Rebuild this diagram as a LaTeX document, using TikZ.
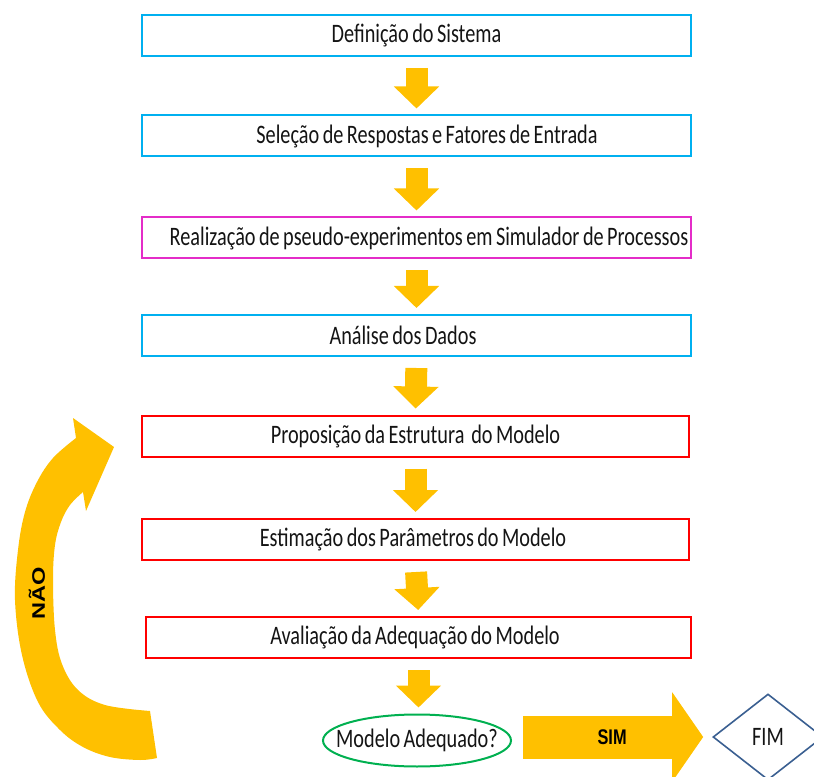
\documentclass[tikz,border=0pt]{standalone}
\usepackage{fontspec}
\setmainfont{Carlito}
% narrow, tall lettering for the boxes; bold sans for the yes/no tags
\newfontfamily\boxfont{Carlito}[FakeStretch=0.76, WordSpace=0.75]
\newfontfamily\tagfont{Liberation Sans}[FakeStretch=0.77]
\newfontfamily\sidefont{Liberation Sans}[FakeStretch=1.3]
\usetikzlibrary{shapes.geometric,arrows.meta,calc}

\definecolor{cyanline}{RGB}{0,176,240}
\definecolor{magline}{RGB}{228,44,200}
\definecolor{redline}{RGB}{255,0,0}
\definecolor{flowyellow}{RGB}{255,192,0}
\definecolor{greenline}{RGB}{0,176,80}
\definecolor{steelline}{RGB}{58,95,145}
\definecolor{inktext}{RGB}{20,20,20}

\begin{document}
\begin{tikzpicture}[x=0.75pt,y=-0.75pt,
  txt/.style={text=inktext, font=\boxfont\fontsize{20pt}{22pt}\selectfont},
  stepbox/.style={txt, draw, line width=1.5pt, rectangle, inner sep=0pt,
    minimum width=411.75pt, minimum height=30.75pt},
  flowdown/.style={draw=flowyellow, line width=16.5pt,
    -{Triangle[width=33pt,length=16.5pt]}, shorten <=8.25pt, shorten >=4.5pt},
  flowright/.style={draw=flowyellow, line width=32.25pt,
    -{Triangle[width=66pt,length=23.25pt]}, shorten <=8.25pt, shorten >=6.75pt},
  tag/.style={text=black, font=\tagfont\bfseries\fontsize{15.9pt}{18pt}\selectfont}
]
\useasboundingbox (0,0) rectangle (814,777);

% process steps
\node[stepbox, draw=cyanline] (b1) at (416.5,35.5) {Definição do Sistema};
\node[stepbox, draw=cyanline] (b2) at (416.5,136) {\hspace*{15.75pt}Seleção de Respostas e Fatores de Entrada};
\node[stepbox, draw=magline]  (b3) at (416.5,238) {\hspace*{18.75pt}Realização de pseudo-experimentos em Simulador de Processos};
\node[stepbox, draw=cyanline] (b4) at (416.5,335.5) {Análise dos Dados\hspace*{20.25pt}};
\node[stepbox, draw=redline, minimum width=410.25pt] (b5) at (415.5,436) {Proposição da Estrutura\ \ do Modelo};
\node[stepbox, draw=redline, minimum width=410.25pt] (b6) at (415.5,539.5) {Estimação dos Parâmetros do Modelo\hspace*{3.75pt}};
\node[stepbox, draw=redline, minimum width=408.75pt] (b7) at (418.5,637.5) {Avaliação da Adequação do Modelo\hspace*{5.25pt}};

% decision and end
\node[txt, draw=greenline, line width=1.5pt, ellipse, inner sep=0pt,
  minimum width=141pt, minimum height=39pt] (ok) at (417,740.5) {\makebox[0pt]{Modelo Adequado?}};
\node[txt, draw=steelline, line width=1.2pt, diamond, inner sep=0pt,
  minimum width=82.5pt, minimum height=64.5pt] (fim) at (768,737) {FIM};

% flow arrows
\draw[flowdown] (b1.south) -- (b2.north);
\draw[flowdown] (b2.south) -- (b3.north);
\draw[flowdown] (b3.south) -- (b4.north);
\draw[flowdown] (b4.south) -- (b5.north);
\draw[flowdown] (b5.south) -- (b6.north);
\draw[flowdown] (b6.south) -- (b7.north);
\draw[flowdown] (b7.south) -- (b7.south |- ok.north);
\draw[flowright] (fim.west -| ok.east) -- (fim.west) node[midway, tag] (sim) {SIM};

% return loop back to the model structure
\fill[flowyellow]
  plot[smooth, tension=0.6] coordinates {(157,758) (140,760) (110,757) (83,747) (60,730) (38,702)
    (22,655) (15,600) (18,550) (25,512) (37,482) (53,458) (76,438)}
  -- (73,418) -- (114,447) -- (86,511)
  -- plot[smooth, tension=0.6] coordinates {(83,492) (70,505) (61,522) (55,545) (53,580) (55,630)
    (62,664) (78,690) (105,705) (150,711)}
  -- cycle;
\node[rotate=90, text=black, font=\sidefont\bfseries\fontsize{13.6pt}{16pt}\selectfont] (nao) at (37,593) {NÃO};
\end{tikzpicture}
\end{document}
